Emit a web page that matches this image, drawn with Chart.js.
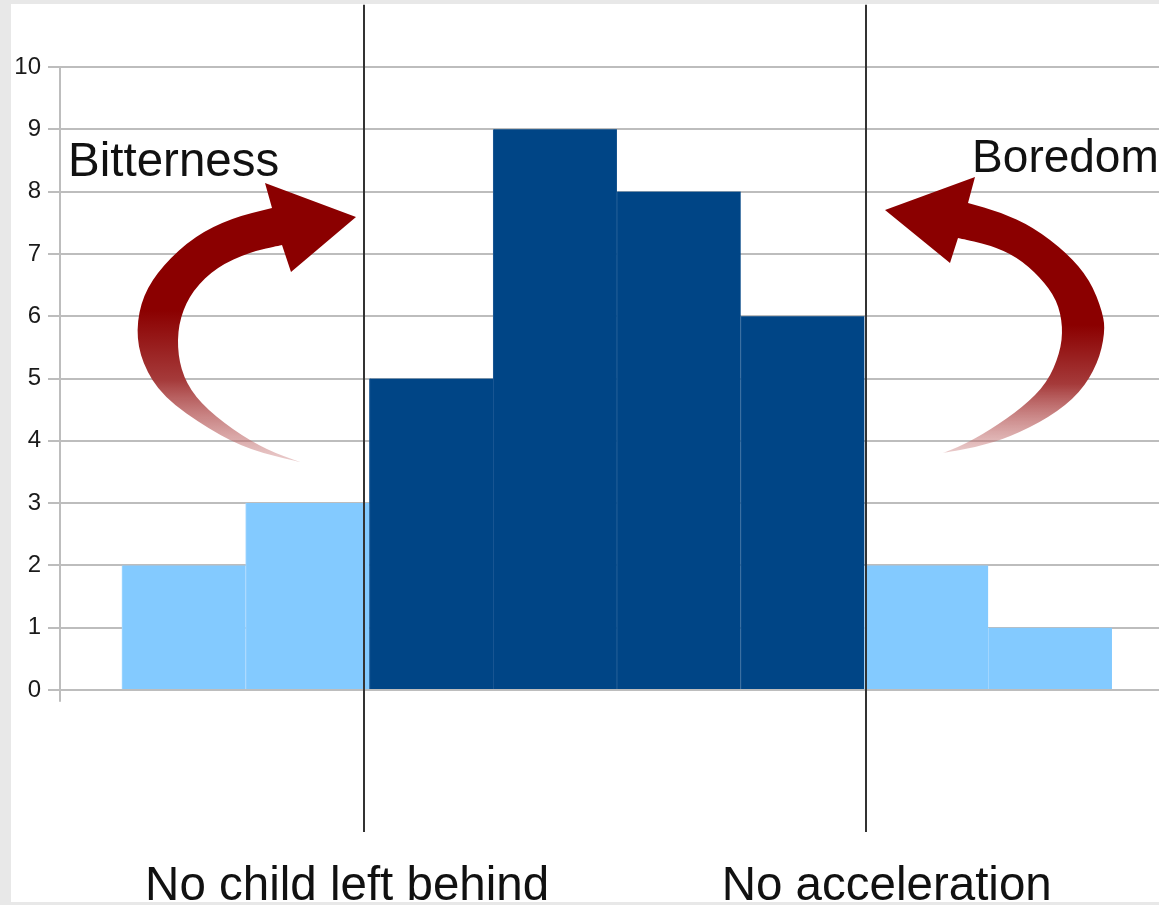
<!DOCTYPE html>
<html>
<head>
<meta charset="utf-8">
<script src="https://cdn.jsdelivr.net/npm/chart.js@4/dist/chart.umd.min.js"></script>
<style>
  html, body { margin: 0; padding: 0; width: 1159px; height: 905px; overflow: hidden; background: #e8e8e8; }
  #sheet { position: absolute; left: 11px; top: 4px; width: 1148px; height: 898px; background: #fff; }
  #chart { position: absolute; left: 0; top: 0; }
</style>
</head>
<body>
<div id="sheet"></div>
<canvas id="chart" width="1159" height="905"></canvas>
<script>
  // data
  const bins = [1, 2, 3, 4, 5, 6, 7, 8];
  const counts = [2, 3, 5, 9, 8, 6, 2, 1];
  const zones = ['edge', 'edge', 'core', 'core', 'core', 'core', 'edge', 'edge'];
  const yTickValues = [0, 1, 2, 3, 4, 5, 6, 7, 8, 9, 10];
  const dividers = [2.46, 6.51];
  const zoneLabels = ['No child left behind', 'No acceleration'];
  const sideLabels = ['Bitterness', 'Boredom'];

  const ZONE_COLORS = { edge: '#83caff', core: '#004586' };
  const ZONE_SEP = { edge: '#a6d8ff', core: '#1d5a95' };

  // arrow outlines (pixel space of the drawing), tail -> outer -> head -> inner -> tail
  const ARROWS = [
    {
      outer: [[300,462],[250,450],[210,430],[163,397],[142,363],[136,330],[143,295],[163,265],[195,236],[232,218],[272,208]],
      head: [[265,183],[356,217],[291,272],[282,245]],
      inner: [[250,252],[217,267],[193,290],[180,317],[177,347],[183,377],[200,403],[233,430],[267,450],[300,462]],
      fade: [310, 465]
    },
    {
      outer: [[943,453],[977,447],[1010,437],[1050,417],[1080,393],[1098,363],[1105,333],[1103,313],[1090,280],[1067,253],[1033,227],[1000,212],[968,203]],
      head: [[975,177],[885,210],[950,263],[958,238]],
      inner: [[990,245],[1017,257],[1040,277],[1057,300],[1063,327],[1060,353],[1047,383],[1023,407],[990,430],[963,445],[943,453]],
      fade: [325, 456]
    }
  ];

  function smoothTo(ctx, pts) {
    for (let i = 0; i < pts.length - 1; i++) {
      const mx = (pts[i][0] + pts[i + 1][0]) / 2, my = (pts[i][1] + pts[i + 1][1]) / 2;
      ctx.quadraticCurveTo(pts[i][0], pts[i][1], mx, my);
    }
    const last = pts[pts.length - 1];
    ctx.lineTo(last[0], last[1]);
  }

  const decorations = {
    id: 'decorations',
    afterDatasetsDraw(chart) {
      const { ctx, scales: { x, y } } = chart;
      ctx.save();

      // little stub of the y axis below zero
      ctx.strokeStyle = '#bdbdbd'; ctx.lineWidth = 2;
      ctx.beginPath(); ctx.moveTo(x.left, y.getPixelForValue(0)); ctx.lineTo(x.left, y.getPixelForValue(-0.19)); ctx.stroke();

      // divider lines
      ctx.strokeStyle = '#333'; ctx.lineWidth = 2;
      dividers.forEach(d => {
        const px = Math.round(x.getPixelForValue(d));
        ctx.beginPath(); ctx.moveTo(px, y.getPixelForValue(11)); ctx.lineTo(px, y.getPixelForValue(-2.28)); ctx.stroke();
      });

      // curved arrows
      ARROWS.forEach(a => {
        const g = ctx.createLinearGradient(0, a.fade[0], 0, a.fade[1]);
        g.addColorStop(0, '#8b0000');
        g.addColorStop(0.45, '#a53a3a');
        g.addColorStop(1, 'rgba(200,120,120,0.35)');
        ctx.fillStyle = g;
        ctx.beginPath();
        ctx.moveTo(a.outer[0][0], a.outer[0][1]);
        smoothTo(ctx, a.outer);
        a.head.forEach(p => ctx.lineTo(p[0], p[1]));
        smoothTo(ctx, [a.head[a.head.length - 1]].concat(a.inner));
        ctx.closePath();
        ctx.fill();
      });

      // labels
      ctx.fillStyle = '#111';
      ctx.textBaseline = 'alphabetic';
      ctx.textAlign = 'left';
      ctx.font = '47.5px "Liberation Sans", Arial, sans-serif';
      ctx.fillText(sideLabels[0], x.getPixelForValue(0.065), y.getPixelForValue(8.25));
      ctx.font = '46px "Liberation Sans", Arial, sans-serif';
      ctx.fillText(sideLabels[1], x.getPixelForValue(7.37), y.getPixelForValue(8.31));
      ctx.font = '47.5px "Liberation Sans", Arial, sans-serif';
      ctx.textAlign = 'center';
      ctx.fillText(zoneLabels[0], x.getPixelForValue(2.32), y.getPixelForValue(-3.37));
      ctx.fillText(zoneLabels[1], x.getPixelForValue(6.68), y.getPixelForValue(-3.37));

      ctx.restore();
    }
  };

  new Chart(document.getElementById('chart'), {
    type: 'bar',
    data: {
      datasets: [{
        data: bins.map((b, i) => ({ x: b, y: counts[i] })),
        backgroundColor: zones.map(z => ZONE_COLORS[z]),
        borderColor: zones.map(z => ZONE_SEP[z]),
        borderWidth: { left: 1, right: 0, top: 0, bottom: 0 },
        borderSkipped: false,
        barPercentage: 1,
        categoryPercentage: 1
      }]
    },
    options: {
      responsive: false,
      devicePixelRatio: 1,
      animation: false,
      layout: { padding: { top: 67, bottom: 215, left: 0, right: 0 } },
      plugins: { legend: { display: false }, tooltip: { enabled: false } },
      scales: {
        x: {
          type: 'linear', min: 0, max: 8.88, offset: false, display: false, grid: { display: false },
          afterBuildTicks(scale) { scale.ticks = bins.map(v => ({ value: v })); }
        },
        y: {
          min: 0, max: 10,
          afterFit(scale) { scale.width = 60; },
          afterBuildTicks(scale) { scale.ticks = yTickValues.map(v => ({ value: v })); },
          grid: { color: '#bdbdbd', lineWidth: 2, tickLength: 12, drawTicks: true },
          border: { display: true, color: '#bdbdbd', width: 2 },
          ticks: { padding: 7, color: '#1a1a1a', font: { family: '"Liberation Sans", Arial, sans-serif', size: 24 } }
        }
      }
    },
    plugins: [decorations]
  });
</script>
</body>
</html>
